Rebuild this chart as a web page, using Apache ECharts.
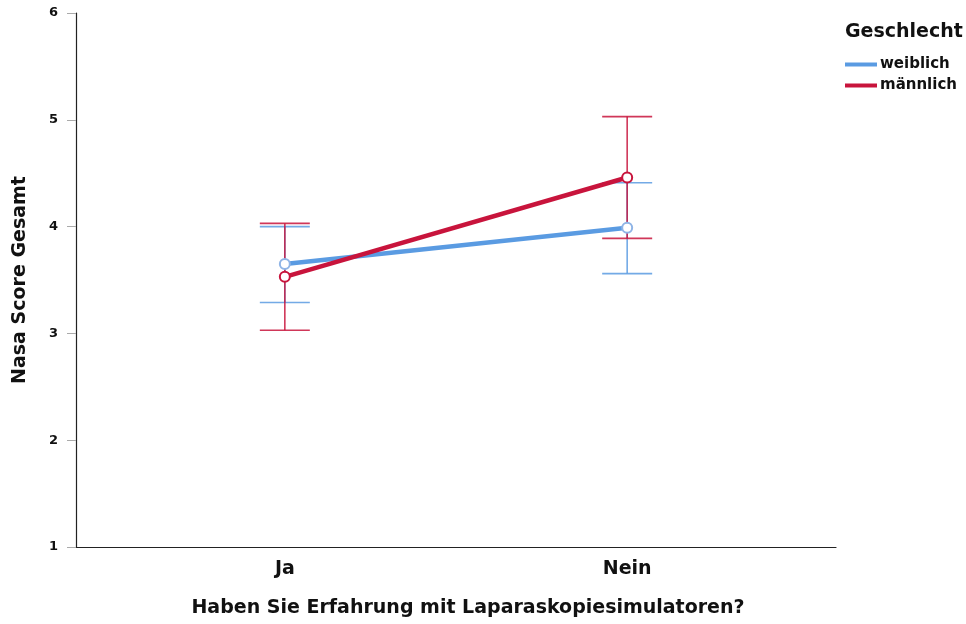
<!DOCTYPE html>
<html>
<head>
<meta charset="utf-8">
<script src="https://cdn.jsdelivr.net/npm/echarts@6/dist/echarts.min.js"></script>
<style>
  html, body { margin: 0; padding: 0; background: #fff; }
  #chart { width: 966px; height: 624px; }
</style>
</head>
<body>
<div id="chart"></div>
<script>
// Group means with confidence intervals for the NASA score
const categories = ['Ja', 'Nein'];
const seriesNames = ['weiblich', 'männlich'];
const weiblichMean = [3.65, 3.99];
const weiblichLower = [3.29, 3.56];
const weiblichUpper = [4.00, 4.41];
const maennlichMean = [3.53, 4.46];
const maennlichLower = [3.03, 3.89];
const maennlichUpper = [4.03, 5.03];
const yTicks = [1, 2, 3, 4, 5, 6];

const BLUE = '#5a9be2';
const RED = '#c8143c';
const FONT = '"DejaVu Sans", "Liberation Sans", Arial, sans-serif';

function meanPoints(means) {
  return means.map((v, i) => [i + 1, v]);
}
function errorPoints(lower, upper) {
  return lower.map((lo, i) => [i + 1, lo, upper[i]]);
}

function errorBarRenderer(color) {
  return function (params, api) {
    const x = api.value(0);
    const lo = api.coord([x, api.value(1)]);
    const hi = api.coord([x, api.value(2)]);
    const half = 25;
    const style = { stroke: color, lineWidth: 1.6, opacity: 0.85 };
    return {
      type: 'group',
      children: [
        { type: 'line', shape: { x1: lo[0], y1: lo[1], x2: hi[0], y2: hi[1] }, style: style },
        { type: 'line', shape: { x1: lo[0] - half, y1: lo[1], x2: lo[0] + half, y2: lo[1] }, style: style },
        { type: 'line', shape: { x1: hi[0] - half, y1: hi[1], x2: hi[0] + half, y2: hi[1] }, style: style }
      ]
    };
  };
}

const chart = echarts.init(document.getElementById('chart'), null, { renderer: 'canvas' });

chart.setOption({
  animation: false,
  backgroundColor: '#ffffff',
  title: {
    text: 'Geschlecht',
    left: 845,
    top: 23,
    padding: 0,
    textStyle: { fontFamily: FONT, fontWeight: 'bold', fontSize: 19, color: '#111' }
  },
  legend: {
    orient: 'vertical',
    left: 845,
    top: 57,
    padding: 0,
    itemWidth: 32,
    itemHeight: 4,
    itemGap: 6,
    icon: 'rect',
    data: seriesNames,
    textStyle: { fontFamily: FONT, fontWeight: 'bold', fontSize: 15, color: '#111', padding: [0, 0, 0, -2] }
  },
  grid: { left: 76, right: 130, top: 13, bottom: 77, outerBoundsMode: 'none' },
  xAxis: {
    type: 'value',
    min: 0.39,
    max: 2.61,
    name: 'Haben Sie Erfahrung mit Laparaskopiesimulatoren?',
    nameLocation: 'middle',
    nameGap: 52,
    nameTextStyle: { fontFamily: FONT, fontWeight: 'bold', fontSize: 19, color: '#111', padding: [0, 0, 0, 24] },
    axisLine: { show: true, onZero: false, lineStyle: { color: '#222', width: 1.2 } },
    axisTick: { show: false },
    splitLine: { show: false },
    axisLabel: {
      customValues: [1, 2],
      formatter: v => categories[Math.round(v) - 1],
      margin: 13,
      fontFamily: FONT,
      fontWeight: 'bold',
      fontSize: 19,
      color: '#111'
    }
  },
  yAxis: {
    type: 'value',
    min: 1,
    max: 6,
    interval: 1,
    name: 'Nasa Score Gesamt',
    nameLocation: 'middle',
    nameGap: 46,
    nameTextStyle: { fontFamily: FONT, fontWeight: 'bold', fontSize: 19, color: '#111' },
    axisLine: { show: true, lineStyle: { color: '#222', width: 1.2 } },
    axisTick: { show: true, length: 9, lineStyle: { color: '#aaa', width: 1 } },
    splitLine: { show: false },
    axisLabel: {
      customValues: yTicks,
      margin: 18,
      fontFamily: FONT,
      fontWeight: 'bold',
      fontSize: 13,
      color: '#111'
    }
  },
  series: [
    {
      name: 'weiblich',
      type: 'custom',
      renderItem: errorBarRenderer(BLUE),
      data: errorPoints(weiblichLower, weiblichUpper),
      encode: { x: 0, y: [1, 2] },
      itemStyle: { color: BLUE },
      z: 1
    },
    {
      name: 'männlich',
      type: 'custom',
      renderItem: errorBarRenderer(RED),
      data: errorPoints(maennlichLower, maennlichUpper),
      encode: { x: 0, y: [1, 2] },
      itemStyle: { color: RED },
      z: 2
    },
    {
      name: 'weiblich',
      type: 'line',
      data: meanPoints(weiblichMean),
      symbol: 'emptyCircle',
      symbolSize: 10,
      lineStyle: { width: 4.5, color: BLUE },
      itemStyle: { color: '#8fb4e6', borderColor: '#8fb4e6', borderWidth: 1.3 },
      z: 3
    },
    {
      name: 'männlich',
      type: 'line',
      data: meanPoints(maennlichMean),
      symbol: 'emptyCircle',
      symbolSize: 10,
      lineStyle: { width: 4.5, color: RED },
      itemStyle: { color: RED, borderColor: RED, borderWidth: 1.3 },
      z: 4
    }
  ]
});
</script>
</body>
</html>
